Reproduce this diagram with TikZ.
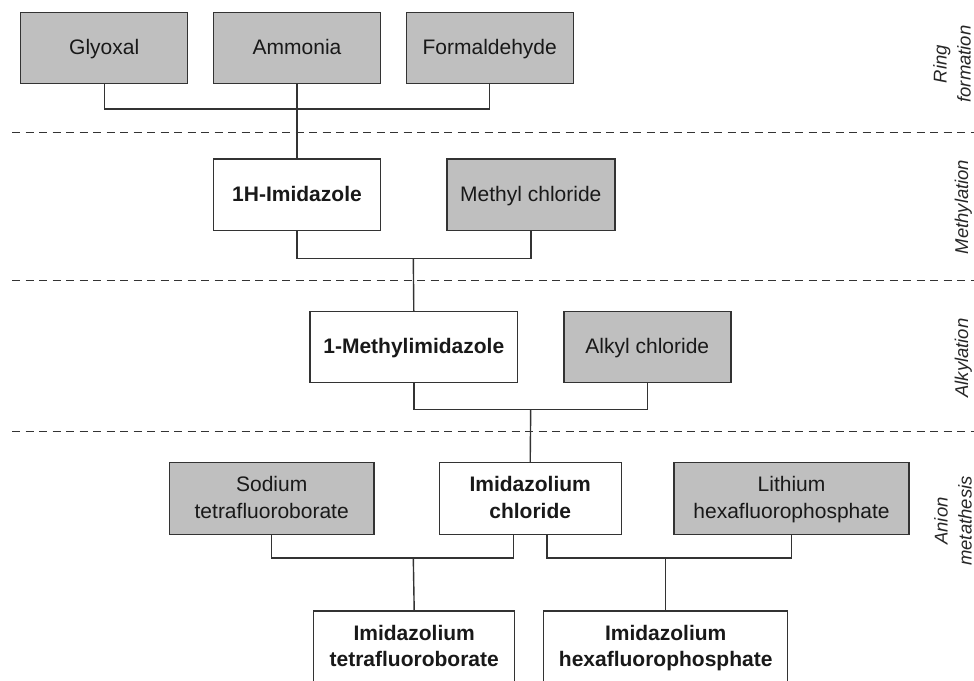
\documentclass[tikz,border=0pt]{standalone}
\usepackage{fontspec}
\setmainfont{Liberation Sans}
\newcommand\bxs{\rule[-7pt]{0pt}{26.5pt}}
\newcommand\lbs{\rule[-5pt]{0pt}{24pt}}
\begin{document}
\begin{tikzpicture}[x=1pt,y=-1pt,
  box/.style={draw=black!80, line width=1.4pt, rectangle, inner sep=0pt, align=center,
    font=\fontsize{21}{26.5}\selectfont, text=black!90},
  reag/.style={box, fill=black!25},
  prod/.style={box, fill=white, font=\fontsize{21}{26.5}\selectfont\bfseries},
  link/.style={draw=black!80, line width=1.4pt},
  sep/.style={draw=black!80, line width=1.2pt, dash pattern=on 8pt off 5.5pt},
  stage/.style={rotate=90, align=center, inner sep=0pt, font=\fontsize{18.5}{24}\selectfont\itshape, text=black!85}]
\useasboundingbox (0,0) rectangle (974,680);
\clip (0,0) rectangle (974,680);

% separators
\coordinate (s1l) at (12,132.3); \coordinate (s1r) at (974,132.3);
\coordinate (s2l) at (12,280.7); \coordinate (s2r) at (974,280.7);
\coordinate (s3l) at (12,431.7); \coordinate (s3r) at (974,431.7);
\draw[sep] (s1l) -- (s1r);
\draw[sep] (s2l) -- (s2r);
\draw[sep] (s3l) -- (s3r);

% row 1
\node[reag, minimum width=167pt, minimum height=71pt] (gly) at (104.2,47.8) {Glyoxal\bxs};
\node[reag, minimum width=167pt, minimum height=71pt] (amm) at (297,47.8) {Ammonia\bxs};
\node[reag, minimum width=167pt, minimum height=71pt] (form) at (489.7,47.8) {Formaldehyde\bxs};
% row 2
\node[prod, minimum width=167pt, minimum height=71.5pt] (imz) at (297,194.8) {1H-Imidazole\bxs};
\node[reag, minimum width=168pt, minimum height=71.5pt] (mc) at (530.8,194.8) {Methyl chloride\bxs};
% row 3
\node[prod, minimum width=207.5pt, minimum height=71pt] (mim) at (413.8,347.2) {1-Methylimidazole\bxs};
\node[reag, minimum width=167pt, minimum height=71pt] (ac) at (647.3,347.2) {Alkyl chloride\bxs};
% row 4
\node[reag, minimum width=204.5pt, minimum height=72pt] (na) at (271.7,498.7) {Sodium\bxs\\tetrafluoroborate\bxs};
\node[prod, minimum width=182pt, minimum height=72pt] (ic) at (530.2,498.7) {Imidazolium\bxs\\chloride\bxs};
\node[reag, minimum width=235pt, minimum height=72pt] (li) at (791.5,498.7) {Lithium\bxs\\hexafluorophosphate\bxs};
% row 5
\node[prod, minimum width=201pt, minimum height=72pt] (tfb) at (414.2,647) {Imidazolium\bxs\\tetrafluoroborate\bxs};
\node[prod, minimum width=244pt, minimum height=72pt] (hfp) at (665.7,647) {Imidazolium\bxs\\hexafluorophosphate\bxs};

% junctions
\coordinate (j1) at (297,109);
\coordinate (j2) at (413.3,258.7);
\coordinate (j3) at (530.7,409.3);
\coordinate (j4) at (413.3,558);
\coordinate (j5) at (665.7,558);
\coordinate (icl) at ([xshift=-16.7pt]ic.south);
\coordinate (icr) at ([xshift=16.7pt]ic.south);

% connectors
\draw[link] (gly.south) |- (j1) -| (form.south);
\draw[link] (amm.south) -- (imz.north);
\draw[link] (imz.south) |- (j2) -| (mc.south);
\draw[link] (j2) -- (mim.north);
\draw[link] (mim.south) |- (j3) -| (ac.south);
\draw[link] (j3) -- (ic.north);
\draw[link] (na.south) |- (j4) -| (icl);
\draw[link] (j4) -- (tfb.north);
\draw[link] (icr) |- (j5) -| (li.south);
\draw[link] (j5) -- (hfp.north);

% stage labels
\node[stage] (st1) at (951.5,64) {Ring\lbs\\formation\lbs};
\node[stage] (st2) at (961,207) {Methylation\lbs};
\node[stage] (st3) at (961,358) {Alkylation\lbs};
\node[stage] (st4) at (952.5,521) {Anion\lbs\\metathesis\lbs};
\end{tikzpicture}
\end{document}
